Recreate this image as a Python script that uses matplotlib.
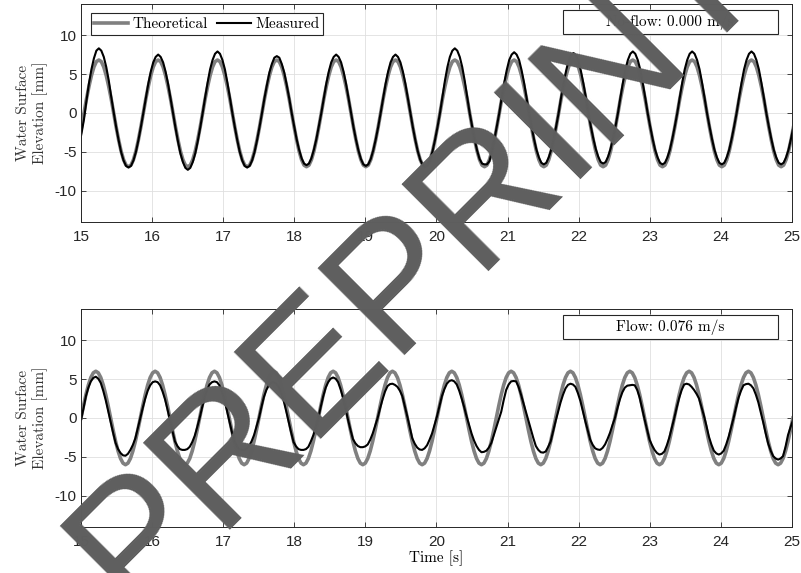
import numpy as np
import matplotlib.pyplot as plt
from matplotlib.patches import Rectangle

plt.rcParams['axes.unicode_minus'] = False

# wave period, samples taken 24 per wave
period = 0.8345
dt = period / 24

# no-flow run, one row per wave (first sample at 14.973 s)
theo_noflow = [-3.45, -1.8,
    0.0, 1.8, 3.4, 4.8, 5.9, 6.6, 6.8, 6.6, 5.9, 4.8, 3.4, 1.8, 0.0, -1.8, -3.45, -4.9, -6.0, -6.7, -6.9, -6.7, -6.0, -4.9, -3.45, -1.8,
    0.0, 1.8, 3.4, 4.8, 5.9, 6.6, 6.8, 6.6, 5.9, 4.8, 3.4, 1.8, 0.0, -1.8, -3.45, -4.9, -6.0, -6.7, -6.9, -6.7, -6.0, -4.9, -3.45, -1.8,
    0.0, 1.8, 3.4, 4.8, 5.9, 6.6, 6.8, 6.6, 5.9, 4.8, 3.4, 1.8, 0.0, -1.8, -3.45, -4.9, -6.0, -6.7, -6.9, -6.7, -6.0, -4.9, -3.45, -1.8,
    0.0, 1.8, 3.4, 4.8, 5.9, 6.6, 6.8, 6.6, 5.9, 4.8, 3.4, 1.8, 0.0, -1.8, -3.45, -4.9, -6.0, -6.7, -6.9, -6.7, -6.0, -4.9, -3.45, -1.8,
    0.0, 1.8, 3.4, 4.8, 5.9, 6.6, 6.8, 6.6, 5.9, 4.8, 3.4, 1.8, 0.0, -1.8, -3.45, -4.9, -6.0, -6.7, -6.9, -6.7, -6.0, -4.9, -3.45, -1.8,
    0.0, 1.8, 3.4, 4.8, 5.9, 6.6, 6.8, 6.6, 5.9, 4.8, 3.4, 1.8, 0.0, -1.8, -3.45, -4.9, -6.0, -6.7, -6.9, -6.7, -6.0, -4.9, -3.45, -1.8,
    0.0, 1.8, 3.4, 4.8, 5.9, 6.6, 6.8, 6.6, 5.9, 4.8, 3.4, 1.8, 0.0, -1.8, -3.45, -4.9, -6.0, -6.7, -6.9, -6.7, -6.0, -4.9, -3.45, -1.8,
    0.0, 1.8, 3.4, 4.8, 5.9, 6.6, 6.8, 6.6, 5.9, 4.8, 3.4, 1.8, 0.0, -1.8, -3.45, -4.9, -6.0, -6.7, -6.9, -6.7, -6.0, -4.9, -3.45, -1.8,
    0.0, 1.8, 3.4, 4.8, 5.9, 6.6, 6.8, 6.6, 5.9, 4.8, 3.4, 1.8, 0.0, -1.8, -3.45, -4.9, -6.0, -6.7, -6.9, -6.7, -6.0, -4.9, -3.45, -1.8,
    0.0, 1.8, 3.4, 4.8, 5.9, 6.6, 6.8, 6.6, 5.9, 4.8, 3.4, 1.8, 0.0, -1.8, -3.45, -4.9, -6.0, -6.7, -6.9, -6.7, -6.0, -4.9, -3.45, -1.8,
    0.0, 1.8, 3.4, 4.8, 5.9, 6.6, 6.8, 6.6, 5.9, 4.8, 3.4, 1.8, 0.0, -1.8, -3.45, -4.9, -6.0, -6.7, -6.9, -6.7, -6.0, -4.9, -3.45, -1.8,
    0.0, 1.8, 3.4, 4.8, 5.9, 6.6, 6.8, 6.6, 5.9, 4.8, 3.4, 1.8, 0.0, -1.8, -3.45, -4.9, -6.0, -6.7, -6.9, -6.7, -6.0, -4.9, -3.45, -1.8]

meas_noflow = [-4.2, -2.6,
    -0.8, 1.6, 3.8, 5.6, 7.0, 8.0, 8.3, 8.0, 7.2, 5.9, 4.2, 2.1, 0.1, -1.8, -3.5, -5.0, -6.1, -6.8, -7.0, -6.8, -6.1, -5.0, -3.5, -1.8,
    0.0, 1.9, 3.75, 5.3, 6.5, 7.2, 7.5, 7.2, 6.5, 5.3, 3.75, 1.9, 0.0, -1.9, -3.65, -5.2, -6.3, -7.05, -7.3, -7.05, -6.3, -5.2, -3.65, -1.9,
    0.0, 2.0, 3.9, 5.6, 6.8, 7.6, 7.9, 7.6, 6.8, 5.6, 3.9, 2.0, 0.0, -1.8, -3.5, -5.0, -6.1, -6.8, -7.0, -6.8, -6.1, -5.0, -3.5, -1.8,
    0.0, 1.9, 3.6, 5.2, 6.3, 7.1, 7.3, 7.1, 6.3, 5.2, 3.6, 1.9, 0.0, -1.7, -3.35, -4.7, -5.8, -6.5, -6.7, -6.5, -5.8, -4.7, -3.35, -1.7,
    0.0, 1.9, 3.75, 5.3, 6.5, 7.2, 7.5, 7.2, 6.5, 5.3, 3.75, 1.9, 0.0, -1.8, -3.4, -4.8, -5.9, -6.6, -6.8, -6.6, -5.9, -4.8, -3.4, -1.8,
    0.0, 1.9, 3.75, 5.3, 6.5, 7.2, 7.5, 7.2, 6.5, 5.3, 3.75, 1.9, 0.0, -1.8, -3.45, -4.9, -6.0, -6.7, -6.9, -6.7, -6.0, -4.9, -3.45, -1.8,
    0.0, 2.1, 4.15, 5.9, 7.2, 8.0, 8.3, 8.0, 7.2, 5.9, 4.15, 2.1, 0.0, -1.7, -3.4, -4.8, -5.9, -6.5, -6.6, -6.6, -6.2, -5.0, -3.4, -1.7,
    0.0, 2.0, 3.9, 5.5, 6.8, 7.5, 7.8, 7.5, 6.8, 5.5, 3.9, 2.0, 0.0, -1.7, -3.3, -4.7, -5.7, -6.4, -6.6, -6.4, -5.7, -4.7, -3.3, -1.7,
    0.0, 2.0, 3.8, 5.4, 6.7, 7.4, 7.7, 7.4, 6.7, 5.4, 3.8, 2.0, 0.0, -1.7, -3.25, -4.6, -5.6, -6.3, -6.5, -6.3, -5.6, -4.6, -3.25, -1.7,
    0.0, 2.0, 3.9, 5.6, 6.8, 7.6, 7.9, 7.6, 6.8, 5.6, 3.9, 2.0, 0.0, -1.7, -3.3, -4.7, -5.7, -6.4, -6.6, -6.4, -5.7, -4.7, -3.3, -1.7,
    0.0, 2.0, 3.9, 5.6, 6.8, 7.6, 7.9, 7.6, 6.8, 5.6, 3.9, 2.0, 0.0, -1.7, -3.3, -4.7, -5.7, -6.4, -6.6, -6.4, -5.7, -4.7, -3.3, -1.7,
    0.0, 2.0, 3.9, 5.6, 6.8, 7.6, 7.9, 7.6, 6.8, 5.6, 3.9, 2.0, 0.0, -1.7, -3.3, -4.7, -5.7, -6.4, -6.6, -6.4, -5.7, -4.7, -3.3, -1.7]

# flow run, one row per wave (first sample at 15.0 s)
theo_flow = [
    0.0, 1.55, 3.0, 4.24, 5.2, 5.8, 6.0, 5.8, 5.2, 4.24, 3.0, 1.55, 0.0, -1.55, -3.0, -4.24, -5.2, -5.8, -6.0, -5.8, -5.2, -4.24, -3.0, -1.55,
    0.0, 1.55, 3.0, 4.24, 5.2, 5.8, 6.0, 5.8, 5.2, 4.24, 3.0, 1.55, 0.0, -1.55, -3.0, -4.24, -5.2, -5.8, -6.0, -5.8, -5.2, -4.24, -3.0, -1.55,
    0.0, 1.55, 3.0, 4.24, 5.2, 5.8, 6.0, 5.8, 5.2, 4.24, 3.0, 1.55, 0.0, -1.55, -3.0, -4.24, -5.2, -5.8, -6.0, -5.8, -5.2, -4.24, -3.0, -1.55,
    0.0, 1.55, 3.0, 4.24, 5.2, 5.8, 6.0, 5.8, 5.2, 4.24, 3.0, 1.55, 0.0, -1.55, -3.0, -4.24, -5.2, -5.8, -6.0, -5.8, -5.2, -4.24, -3.0, -1.55,
    0.0, 1.55, 3.0, 4.24, 5.2, 5.8, 6.0, 5.8, 5.2, 4.24, 3.0, 1.55, 0.0, -1.55, -3.0, -4.24, -5.2, -5.8, -6.0, -5.8, -5.2, -4.24, -3.0, -1.55,
    0.0, 1.55, 3.0, 4.24, 5.2, 5.8, 6.0, 5.8, 5.2, 4.24, 3.0, 1.55, 0.0, -1.55, -3.0, -4.24, -5.2, -5.8, -6.0, -5.8, -5.2, -4.24, -3.0, -1.55,
    0.0, 1.55, 3.0, 4.24, 5.2, 5.8, 6.0, 5.8, 5.2, 4.24, 3.0, 1.55, 0.0, -1.55, -3.0, -4.24, -5.2, -5.8, -6.0, -5.8, -5.2, -4.24, -3.0, -1.55,
    0.0, 1.55, 3.0, 4.24, 5.2, 5.8, 6.0, 5.8, 5.2, 4.24, 3.0, 1.55, 0.0, -1.55, -3.0, -4.24, -5.2, -5.8, -6.0, -5.8, -5.2, -4.24, -3.0, -1.55,
    0.0, 1.55, 3.0, 4.24, 5.2, 5.8, 6.0, 5.8, 5.2, 4.24, 3.0, 1.55, 0.0, -1.55, -3.0, -4.24, -5.2, -5.8, -6.0, -5.8, -5.2, -4.24, -3.0, -1.55,
    0.0, 1.55, 3.0, 4.24, 5.2, 5.8, 6.0, 5.8, 5.2, 4.24, 3.0, 1.55, 0.0, -1.55, -3.0, -4.24, -5.2, -5.8, -6.0, -5.8, -5.2, -4.24, -3.0, -1.55,
    0.0, 1.55, 3.0, 4.24, 5.2, 5.8, 6.0, 5.8, 5.2, 4.24, 3.0, 1.55, 0.0, -1.55, -3.0, -4.24, -5.2, -5.8, -6.0, -5.8, -5.2, -4.24, -3.0, -1.55,
    0.0, 1.55, 3.0, 4.24, 5.2, 5.8, 6.0, 5.8, 5.2, 4.24, 3.0, 1.55, 0.0, -1.55, -3.0, -4.24, -5.2, -5.8, -6.0, -5.8, -5.2, -4.24, -3.0, -1.55,
    0.0]

meas_flow = [
    -0.3, 1.2, 2.8, 3.9, 4.7, 5.15, 5.3, 5.05, 4.5, 3.5, 2.3, 0.9, -0.5, -1.9, -3.2, -4.0, -4.5, -4.8, -4.85, -4.6, -4.1, -3.45, -2.6, -1.3,
    0.0, 1.3, 2.5, 3.5, 4.2, 4.6, 4.7, 4.6, 4.2, 3.4, 2.4, 1.1, -0.3, -1.7, -3.0, -3.6, -4.0, -4.1, -4.1, -4.0, -3.7, -3.1, -2.3, -1.2,
    0.0, 1.35, 2.6, 3.6, 4.3, 4.6, 4.7, 4.6, 4.2, 3.35, 2.3, 1.0, -0.4, -1.75, -3.0, -3.6, -4.0, -4.1, -4.1, -3.95, -3.6, -3.0, -2.2, -1.1,
    0.0, 1.4, 2.7, 3.6, 4.2, 4.55, 4.6, 4.4, 4.0, 3.2, 2.2, 0.9, -0.5, -1.85, -3.1, -3.65, -4.0, -4.1, -4.1, -4.0, -3.7, -3.0, -2.2, -1.1,
    0.0, 1.45, 2.8, 3.9, 4.6, 5.05, 5.2, 5.05, 4.6, 3.7, 2.6, 1.2, -0.2, -1.5, -2.7, -3.25, -3.6, -3.75, -3.75, -3.65, -3.4, -2.8, -2.0, -1.0,
    0.0, 1.25, 2.4, 3.4, 4.1, 4.35, 4.4, 4.25, 4.0, 3.5, 2.8, 1.5, 0.2, -1.2, -2.6, -3.3, -3.8, -4.05, -4.1, -3.9, -3.5, -2.8, -2.0, -0.9,
    0.2, 1.5, 2.8, 3.7, 4.4, 4.75, 4.85, 4.7, 4.3, 3.5, 2.5, 1.4, 0.2, -0.9, -2.0, -2.9, -3.6, -4.1, -4.4, -4.35, -4.2, -3.8, -3.2, -2.2,
    -1.2, -0.2, 0.8, 2.3, 3.6, 4.3, 4.7, 4.75, 4.7, 4.0, 3.0, 1.9, 0.8, -0.35, -1.5, -2.6, -3.6, -4.1, -4.4, -4.45, -4.3, -3.7, -3.0, -1.7,
    -0.4, 0.8, 2.0, 3.0, 3.8, 4.25, 4.4, 4.3, 4.0, 3.2, 2.2, 0.9, -0.4, -1.6, -2.8, -3.45, -3.9, -4.05, -4.1, -3.85, -3.4, -2.7, -1.9, -0.9,
    0.0, 1.25, 2.4, 3.3, 3.9, 4.15, 4.2, 4.25, 4.2, 3.6, 2.6, 1.2, -0.2, -1.5, -2.8, -3.5, -4.1, -4.5, -4.7, -4.6, -4.3, -3.5, -2.5, -1.25,
    0.0, 1.35, 2.6, 3.6, 4.3, 4.4, 4.3, 4.0, 3.6, 3.1, 2.5, 1.4, 0.3, -1.0, -2.4, -3.4, -4.2, -4.55, -4.7, -4.55, -4.2, -3.4, -2.4, -1.2,
    0.0, 1.35, 2.6, 3.5, 4.2, 4.35, 4.4, 4.2, 3.8, 3.0, 2.0, 0.7, -0.6, -2.0, -3.3, -4.2, -4.9, -5.2, -5.35, -5.2, -4.9, -3.7, -2.2, -1.2,
    -0.3]

t_noflow = 14.973 + dt * np.arange(len(theo_noflow))
t_flow = 15.0 + dt * np.arange(len(theo_flow))

serif = 'cmr10'
dark = '#262626'

fig = plt.figure(figsize=(8.01, 5.73), dpi=100)
ax1 = fig.add_axes([0.1011, 0.6126, 0.8876, 0.3805])
ax2 = fig.add_axes([0.1011, 0.0803, 0.8876, 0.3805])

panels = [
    (ax1, t_noflow, theo_noflow, meas_noflow, 'No-flow: 0.000 m/s', 0.861),
    (ax2, t_flow, theo_flow, meas_flow, 'Flow: 0.076 m/s', 0.862),
]

for ax, t, theo, meas, note, by in panels:
    ax.plot(t, theo, color='#808080', lw=2.6, label='Theoretical')
    ax.plot(t, meas, color='black', lw=1.5, label='Measured')
    ax.set_xlim(15, 25)
    ax.set_ylim(-14, 14)
    ax.set_xticks(range(15, 26))
    ax.set_yticks([-10, -5, 0, 5, 10])
    ax.grid(True, color='#dfdfdf', lw=0.6)
    ax.set_axisbelow(True)
    ax.tick_params(direction='in', top=True, right=True, length=3.5,
                   width=0.6, colors=dark, labelsize=11)
    ax.tick_params(axis='x', pad=6)
    ax.tick_params(axis='y', pad=3)
    for lab in ax.get_xticklabels() + ax.get_yticklabels():
        lab.set_fontfamily('Liberation Sans')
    for s in ax.spines.values():
        s.set_color(dark)
        s.set_linewidth(0.7)
    ax.set_ylabel('Water Surface\nElevation [mm]', fontfamily=serif,
                  fontsize=11, color='#333333')
    ax.yaxis.set_label_coords(-0.047, 0.5)
    # annotation box in the upper right
    ax.add_patch(Rectangle((0.6775, by), 0.3025, 0.111, transform=ax.transAxes,
                           fc='white', ec=dark, lw=0.8, zorder=5))
    ax.text(0.8288, by + 0.0555, note, transform=ax.transAxes, ha='center',
            va='center', fontfamily=serif, fontsize=11, color='black', zorder=6)

leg = ax1.legend(loc='upper left', bbox_to_anchor=(0.0136, 0.957), ncol=2,
                 prop={'family': serif, 'size': 11}, fancybox=False,
                 edgecolor=dark, framealpha=1, borderpad=0.25,
                 handlelength=2.2, handletextpad=0.3, columnspacing=0.6,
                 borderaxespad=0)
leg.get_frame().set_linewidth(0.8)

ax2.set_xlabel('Time [s]', fontfamily=serif, fontsize=11, labelpad=0.5)

# watermark over everything
fig.text(0.521, 0.541, 'PREPRINT', rotation=45, rotation_mode='anchor',
         ha='center', va='center', fontsize=128, color='#5e5e5e',
         fontfamily='Liberation Sans', zorder=10)

fig.savefig('out.png', dpi=100)
